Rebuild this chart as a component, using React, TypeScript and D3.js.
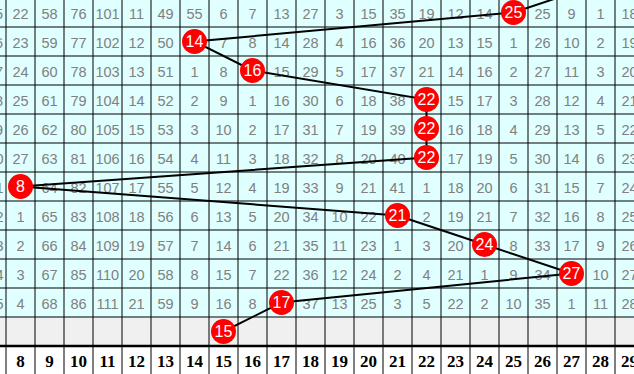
import React from "react";
import * as d3 from "d3";

const columns = [7, 8, 9, 10, 11, 12, 13, 14, 15, 16, 17, 18, 19, 20, 21, 22, 23, 24, 25, 26, 27, 28, 29];

// Missing-count values per row (columns 7..29); ball cells hold the ball number
const row0 = [115, 22, 58, 76, 101, 11, 49, 55, 6, 7, 13, 27, 3, 15, 35, 19, 12, 14, 25, 25, 9, 1, 18];
const row1 = [116, 23, 59, 77, 102, 12, 50, 14, 7, 8, 14, 28, 4, 16, 36, 20, 13, 15, 1, 26, 10, 2, 19];
const row2 = [117, 24, 60, 78, 103, 13, 51, 1, 8, 16, 15, 29, 5, 17, 37, 21, 14, 16, 2, 27, 11, 3, 20];
const row3 = [118, 25, 61, 79, 104, 14, 52, 2, 9, 1, 16, 30, 6, 18, 38, 22, 15, 17, 3, 28, 12, 4, 21];
const row4 = [119, 26, 62, 80, 105, 15, 53, 3, 10, 2, 17, 31, 7, 19, 39, 22, 16, 18, 4, 29, 13, 5, 22];
const row5 = [120, 27, 63, 81, 106, 16, 54, 4, 11, 3, 18, 32, 8, 20, 40, 22, 17, 19, 5, 30, 14, 6, 23];
const row6 = [121, 8, 64, 82, 107, 17, 55, 5, 12, 4, 19, 33, 9, 21, 41, 1, 18, 20, 6, 31, 15, 7, 24];
const row7 = [122, 1, 65, 83, 108, 18, 56, 6, 13, 5, 20, 34, 10, 22, 21, 2, 19, 21, 7, 32, 16, 8, 25];
const row8 = [123, 2, 66, 84, 109, 19, 57, 7, 14, 6, 21, 35, 11, 23, 1, 3, 20, 24, 8, 33, 17, 9, 26];
const row9 = [124, 3, 67, 85, 110, 20, 58, 8, 15, 7, 22, 36, 12, 24, 2, 4, 21, 1, 9, 34, 27, 10, 27];
const row10 = [125, 4, 68, 86, 111, 21, 59, 9, 16, 8, 17, 37, 13, 25, 3, 5, 22, 2, 10, 35, 1, 11, 28];
const tableRows = [row0, row1, row2, row3, row4, row5, row6, row7, row8, row9, row10];

// Drawn number for each row (last row is the gray forecast row)
const previousBall = 28;
const balls = [25, 14, 16, 22, 22, 22, 8, 21, 24, 27, 17, 15];

const W = 634;
const H = 374;

export default function App() {
  const rowIdx = d3.range(balls.length);
  const x = d3.scaleBand<number>().domain(columns).range([-23, 644]).padding(0);
  const y = d3.scaleBand<number>().domain(rowIdx).range([-2, 346]).padding(0);
  const bw = x.bandwidth();
  const bh = y.bandwidth();
  const cx = (c: number) => (x(c) as number) + bw / 2;
  const cy = d3.scaleLinear().domain([0, 1]).range([(y(0) as number) + bh / 2, (y(1) as number) + bh / 2]);

  const pts: [number, number][] = [[cx(previousBall), cy(-1)], ...balls.map((b, i) => [cx(b), cy(i)] as [number, number])];
  const lineGen = d3.line();

  const headerTop = 346;

  return (
    <svg width={W} height={H} style={{ position: "absolute", left: 0, top: 0, display: "block" }}>
      <rect x={0} y={0} width={W} height={H} fill="#ffffff" />
      {/* backgrounds */}
      {tableRows.map((_, i) => (
        <rect key={"bg" + i} x={0} y={y(i)} width={W} height={bh} fill="#E0FFFF" />
      ))}
      <rect x={0} y={y(11)} width={W} height={bh} fill="#F0F0F0" />
      {/* cell numbers */}
      {tableRows.map((r, i) =>
        r.map((v, j) =>
          columns[j] === balls[i] ? null : (
            <text
              key={`t${i}-${j}`}
              x={cx(columns[j])}
              y={cy(i) + 6}
              textAnchor="middle"
              fontFamily="'Liberation Sans', Arial, sans-serif"
              fontSize={14.5}
              fill="#808080"
            >
              {v}
            </text>
          )
        )
      )}
      {/* grid lines */}
      {rowIdx.map((i) => (
        <line key={"h" + i} x1={0} x2={W} y1={(y(i) as number) + bh} y2={(y(i) as number) + bh} stroke="#000" strokeWidth={1} />
      ))}
      <line x1={0} x2={W} y1={headerTop} y2={headerTop} stroke="#000" strokeWidth={2.5} />
      {columns.map((c) => (
        <line key={"v" + c} x1={(x(c) as number) + bw} x2={(x(c) as number) + bw} y1={0} y2={H} stroke="#000" strokeWidth={1} />
      ))}
      {/* header labels */}
      {columns.map((c) => (
        <text
          key={"hd" + c}
          x={cx(c)}
          y={367}
          textAnchor="middle"
          fontFamily="'Liberation Serif', 'Times New Roman', serif"
          fontWeight="bold"
          fontSize={17}
          fill="#000"
        >
          {c}
        </text>
      ))}
      {/* trend line */}
      <path d={lineGen(pts) || ""} fill="none" stroke="#000" strokeWidth={2} />
      {/* balls */}
      {balls.map((b, i) => (
        <g key={"b" + i}>
          <circle cx={cx(b)} cy={cy(i)} r={12.5} fill="#FF0000" />
          <text
            x={cx(b)}
            y={cy(i) + 5.5}
            textAnchor="middle"
            fontFamily="'Liberation Sans', Arial, sans-serif"
            fontSize={16}
            fill="#ffffff"
          >
            {b}
          </text>
        </g>
      ))}
    </svg>
  );
}
